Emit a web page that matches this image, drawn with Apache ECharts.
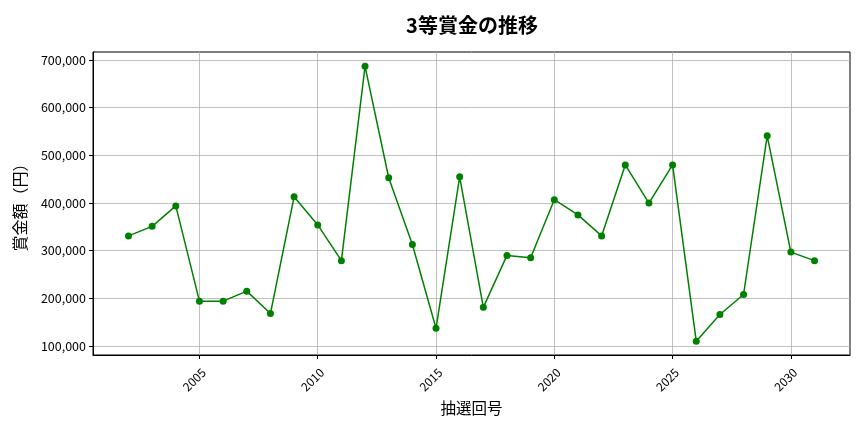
<!DOCTYPE html>
<html><head><meta charset="utf-8">
<script src="https://cdn.jsdelivr.net/npm/echarts@6/dist/echarts.min.js"></script>
<style>html,body{margin:0;padding:0;background:#fff}#c{width:864px;height:432px}</style>
</head><body><div id="c"></div>
<script>
const draws = [2002,2003,2004,2005,2006,2007,2008,2009,2010,2011,2012,2013,2014,2015,2016,2017,2018,2019,2020,2021,2022,2023,2024,2025,2026,2027,2028,2029,2030,2031];
const prizes = [331000,351000,394000,194000,194000,215000,168000,413000,354000,279000,687000,453000,313000,137000,455000,181000,290000,285000,407000,375000,331000,480000,400000,480000,110000,166000,208000,541000,297000,279000];
const xTicks = [2005,2010,2015,2020,2025,2030];
const yTicks = [100000,200000,300000,400000,500000,600000,700000];

const font = "'Noto Sans CJK JP','Noto Sans',sans-serif";
const chart = echarts.init(document.getElementById('c'), null, {renderer:'canvas'});
chart.setOption({
  animation:false,
  title:{text:'3等賞金の推移', left:467, top:10, textAlign:'center',
    textStyle:{fontFamily:font, fontSize:20, fontWeight:'bold', color:'#000'}},
  grid:{left:93, right:14, top:52, bottom:77, outerBoundsMode:'none', containLabel:false,
    show:true, borderColor:'#000', borderWidth:1, backgroundColor:'transparent'},
  xAxis:{type:'value', min:2000.5, max:2032.5,
    name:'抽選回号', nameLocation:'middle', nameGap:45,
    nameTextStyle:{fontFamily:font, fontSize:15.5, color:'#000'},
    axisLine:{show:true, lineStyle:{color:'#000', width:1}},
    axisTick:{show:true, customValues:xTicks, length:4, lineStyle:{color:'#000'}},
    axisLabel:{customValues:xTicks, rotate:45, verticalAlign:'top', fontFamily:font, fontSize:12, color:'#000', margin:11,
      formatter:v=>String(v)},
    splitLine:{show:true, lineStyle:{color:'#b0b0b0', width:0.8}}},
  yAxis:{type:'value', min:81000, max:717000,
    name:'賞金額（円）', nameLocation:'middle', nameGap:65, nameRotate:90,
    nameTextStyle:{fontFamily:font, fontSize:16, color:'#000'},
    axisLine:{show:true, lineStyle:{color:'#000', width:1}},
    axisTick:{show:true, customValues:yTicks, length:4, lineStyle:{color:'#000'}},
    axisLabel:{customValues:yTicks, fontFamily:font, fontSize:12.5, color:'#000', margin:7,
      formatter:v=>v.toLocaleString('en-US')},
    splitLine:{show:true, lineStyle:{color:'#b0b0b0', width:0.8}}},
  series:[{type:'line', data:draws.map((d,i)=>[d,prizes[i]]),
    symbol:'circle', symbolSize:7, showAllSymbol:true,
    lineStyle:{color:'#008000', width:1.5},
    itemStyle:{color:'#008000'}}]
});
</script></body></html>
